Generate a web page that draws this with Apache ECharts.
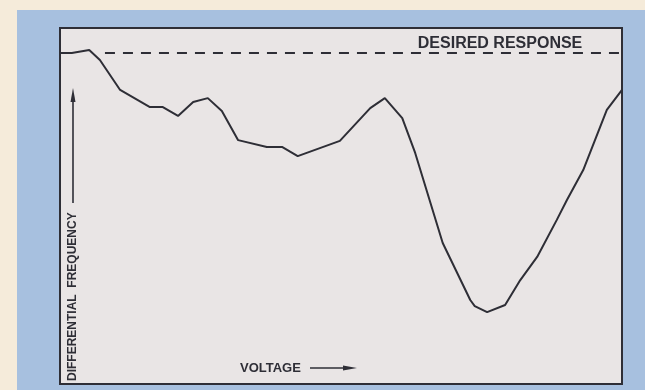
<!DOCTYPE html>
<html>
<head>
<meta charset="utf-8">
<script src="https://cdn.jsdelivr.net/npm/echarts@6/dist/echarts.min.js"></script>
<style>
  html, body { margin: 0; padding: 0; background: #f5ebda; }
  #panel { position: absolute; left: 17px; top: 10px; width: 628px; height: 380px; background: #a7c0df; }
  #chart { position: absolute; left: 0; top: 0; width: 645px; height: 390px; }
</style>
</head>
<body>
<div id="panel"></div>
<div id="chart"></div>
<script>
// Measured response: differential frequency against control voltage (relative units 0-100)
const voltage = [0, 2.1, 5.2, 7.1, 10.7, 16.0, 18.3, 21.0, 23.7, 26.3, 28.8, 31.7, 36.8, 39.5, 42.3,
  49.8, 55.2, 57.8, 60.9, 63.2, 68.1, 73.0, 73.8, 76.0, 79.2, 81.9, 84.9, 88.4, 90.2, 93.1, 97.3, 100];
const frequency = [93.0, 93.0, 93.8, 91.0, 82.6, 77.8, 77.8, 75.3, 79.2, 80.3, 76.7, 68.5, 66.6, 66.6, 64.0,
  68.3, 77.5, 80.3, 74.7, 64.9, 39.6, 23.6, 21.9, 20.2, 22.2, 29.2, 35.7, 46.1, 51.7, 60.1, 77.0, 82.6];

// Ideal (flat) response level and where its dashed trace begins
const desiredLevel = 93.0;
const desiredStart = 8.0;
const desiredLabel = 'DESIRED RESPONSE';
const desiredLabelAt = 78.3;

const xTitle = 'VOLTAGE';
const yTitle = 'DIFFERENTIAL  FREQUENCY';

const ink = '#2e2e36';
const font = '"Liberation Sans", Arial, Helvetica, sans-serif';

const chart = echarts.init(document.getElementById('chart'), null, { renderer: 'canvas' });

chart.setOption({
  backgroundColor: 'transparent',
  animation: false,
  grid: {
    show: true,
    left: 60, top: 28, right: 23, bottom: 6,
    backgroundColor: '#e9e5e5',
    borderColor: ink,
    borderWidth: 2
  },
  xAxis: { type: 'value', min: 0, max: 100, show: false },
  yAxis: { type: 'value', min: 0, max: 100, show: false },
  series: [
    {
      name: 'response',
      type: 'line',
      data: voltage.map((v, i) => [v, frequency[i]]),
      showSymbol: false,
      symbol: 'none',
      lineStyle: { color: ink, width: 2 },
      z: 3
    },
    {
      name: 'desired',
      type: 'line',
      data: [[desiredStart, desiredLevel], [100, desiredLevel]],
      symbol: 'none',
      lineStyle: { color: ink, width: 2, type: [10, 8] },
      markPoint: {
        symbol: 'circle',
        symbolSize: 0,
        data: [{ coord: [desiredLabelAt, desiredLevel] }],
        label: {
          show: true,
          position: 'top',
          distance: 1,
          formatter: desiredLabel,
          color: ink,
          fontFamily: font,
          fontWeight: 'bold',
          fontSize: 16
        }
      },
      z: 2
    }
  ],
  graphic: [
    {
      type: 'text',
      x: 73, y: 381,
      rotation: Math.PI / 2,
      style: { text: yTitle, fill: ink, font: 'bold 12px ' + font, textAlign: 'left', textVerticalAlign: 'middle' }
    },
    { type: 'line', shape: { x1: 73, y1: 203, x2: 73, y2: 100 }, style: { stroke: ink, lineWidth: 1.6 } },
    { type: 'polygon', shape: { points: [[73, 88], [70.5, 102], [75.5, 102]] }, style: { fill: ink } },
    {
      type: 'text',
      x: 240, y: 368,
      style: { text: xTitle, fill: ink, font: 'bold 13px ' + font, textAlign: 'left', textVerticalAlign: 'middle' }
    },
    { type: 'line', shape: { x1: 310, y1: 368, x2: 345, y2: 368 }, style: { stroke: ink, lineWidth: 1.6 } },
    { type: 'polygon', shape: { points: [[357, 368], [343, 365.5], [343, 370.5]] }, style: { fill: ink } }
  ]
});
</script>
</body>
</html>
